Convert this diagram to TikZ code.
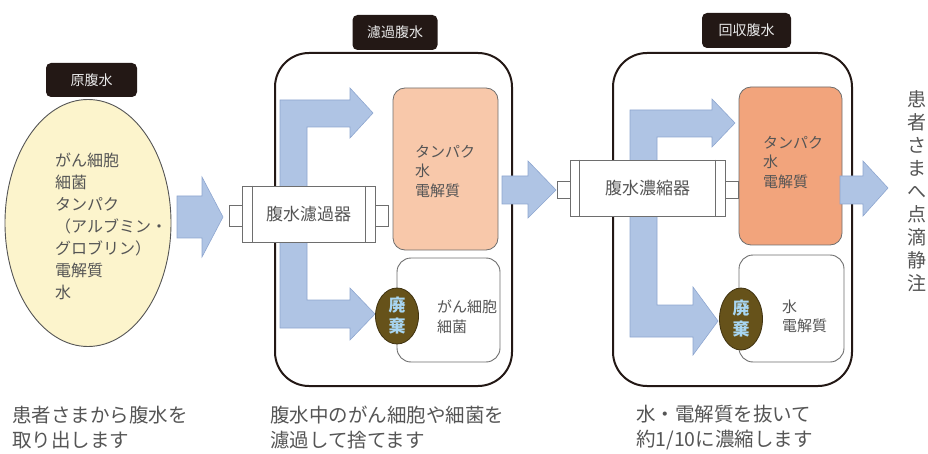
\documentclass[tikz,border=0pt]{standalone}
\usepackage{fontspec}
\setmainfont{Noto Sans CJK JP}
\usetikzlibrary{shapes.geometric}
\definecolor{lblbg}{HTML}{231815}
\definecolor{lbltxt}{HTML}{E8E8E8}
\definecolor{boxline}{HTML}{231815}
\definecolor{arrowblue}{HTML}{AFC4E4}
\definecolor{arrowedge}{HTML}{8EA6D0}
\definecolor{ellfill}{HTML}{FCF4CC}
\definecolor{orangeA}{HTML}{F8C8AA}
\definecolor{orangeB}{HTML}{F2A47C}
\definecolor{discfill}{HTML}{66521A}
\definecolor{discline}{HTML}{3F3210}
\definecolor{disctxt}{HTML}{A8D6F2}
\definecolor{txtgray}{HTML}{555555}
\definecolor{thingray}{HTML}{6E6E6E}
\begin{document}
\begin{tikzpicture}[x=1pt,y=-1pt,
  lbl/.style={fill=lblbg, rounded corners=5pt, text=lbltxt, font=\fontsize{14}{14}\selectfont, inner sep=0pt},
  outerbox/.style={draw=boxline, line width=2pt, rounded corners=34pt, inner sep=0pt},
  barrow/.style={fill=arrowblue, draw=arrowedge, line width=0.6pt},
  filterbody/.style={draw=thingray, fill=white, line width=0.9pt, inner sep=0pt, text=txtgray, font=\fontsize{17}{17}\selectfont},
  nub/.style={draw=thingray, fill=white, line width=0.9pt, inner sep=0pt, minimum width=13pt, minimum height=19pt},
  orangebox/.style={draw=thingray, line width=0.8pt, rounded corners=12pt, inner sep=0pt},
  wastebox/.style={draw=thingray, fill=white, line width=0.9pt, rounded corners=14pt, inner sep=0pt},
  disc/.style={ellipse, draw=discline, fill=discfill, line width=0.8pt, inner sep=0pt, text=disctxt, font=\bfseries\fontsize{17}{21}\selectfont, align=center},
  intext/.style={text=txtgray, inner sep=0pt, align=left, anchor=west},
  bottomtext/.style={text=txtgray, inner sep=0pt, align=left, anchor=west, font=\fontsize{19.5}{25}\selectfont}
]
\useasboundingbox (0,0) rectangle (928,454);

% ---------- stage 1 ----------
\node[lbl, minimum width=91pt, minimum height=34pt] (lab1) at (91.5,80) {原腹水};
\node[ellipse, draw=txtgray, fill=ellfill, line width=0.9pt, minimum width=166pt, minimum height=247pt, inner sep=0pt] (ell) at (88,223) {};
\node[intext, font=\fontsize{16}{22}\selectfont] (elltext) at (55,226)
  {がん細胞\\細菌\\タンパク\\（アルブミン・\\グロブリン）\\電解質\\水};

% ---------- outer boxes ----------
\node[outerbox, minimum width=237pt, minimum height=333pt] (box2) at (393.5,219.5) {};
\node[outerbox, minimum width=239pt, minimum height=333pt] (box3) at (732.5,219.5) {};
\node[lbl, minimum width=85pt, minimum height=35pt] (lab2) at (395,32.5) {濾過腹水};
\node[lbl, minimum width=89pt, minimum height=35pt] (lab3) at (746.5,30.5) {回収腹水};

% ---------- arrow 1 ----------
\path[barrow] (177,196) -- (202,196) -- (202,177) -- (223,217) -- (202,257) -- (202,238) -- (177,238) -- cycle;

% ---------- stage 2 arrows ----------
\path[barrow] (280,100) -- (350,100) -- (350,88) -- (373,113) -- (350,138) -- (350,127)
  -- (307,127) -- (307,300) -- (350,300) -- (350,288) -- (375,314) -- (350,340) -- (350,328)
  -- (280,328) -- cycle;

% ---------- stage 3 arrows ----------
\path[barrow] (630,110) -- (712,110) -- (712,99) -- (735,123) -- (712,147) -- (712,137)
  -- (657,137) -- (657,305) -- (693,305) -- (693,287) -- (718,321) -- (693,355) -- (693,337)
  -- (630,337) -- cycle;

% ---------- filter 2 ----------
\node[nub, minimum height=21pt] (f2l) at (235.5,216) {};
\node[nub, minimum height=21pt] (f2r) at (381.5,216) {};
\node[filterbody, minimum width=133pt, minimum height=56pt] (f2) at (308.5,214) {腹水濾過器};
\draw[thingray, line width=0.9pt] ([xshift=10.5pt]f2.north west) -- ([xshift=10.5pt]f2.south west);
\draw[thingray, line width=0.9pt] ([xshift=-10.5pt]f2.north east) -- ([xshift=-10.5pt]f2.south east);

% ---------- filter 3 ----------
\node[nub, minimum height=17pt] (f3l) at (563.5,189.5) {};
\node[nub, minimum height=17pt] (f3r) at (731.5,189.5) {};
\node[filterbody, minimum width=155pt, minimum height=56pt] (f3) at (647.5,188) {腹水濃縮器};
\draw[thingray, line width=0.9pt] ([xshift=10pt]f3.north west) -- ([xshift=10pt]f3.south west);
\draw[thingray, line width=0.9pt] ([xshift=-10pt]f3.north east) -- ([xshift=-10pt]f3.south east);

% ---------- stage 2 contents ----------
\node[orangebox, fill=orangeA, minimum width=105pt, minimum height=162pt] (o2) at (445.5,169) {};
\node[intext, font=\fontsize{15}{19.5}\selectfont] (o2t) at (415,171.5) {タンパク\\水\\電解質};
\node[wastebox, minimum width=103pt, minimum height=104pt] (w2) at (448.5,310) {};
\node[disc, minimum width=43pt, minimum height=56pt] (d2) at (397,316) {廃\\棄};
\node[intext, font=\fontsize{15}{20}\selectfont] (w2t) at (437,317) {がん細胞\\細菌};

% ---------- arrow 2 ----------
\path[barrow] (502,176) -- (528,176) -- (528,161) -- (556,190) -- (528,218) -- (528,204) -- (502,204) -- cycle;

% ---------- stage 3 contents ----------
\node[orangebox, fill=orangeB, minimum width=103pt, minimum height=158pt] (o3) at (790.5,166) {};
\node[intext, font=\fontsize{15}{19.5}\selectfont] (o3t) at (763,162.5) {タンパク\\水\\電解質};
\node[wastebox, minimum width=105pt, minimum height=107pt] (w3) at (791.5,308.5) {};
\node[disc, minimum width=43pt, minimum height=62pt] (d3) at (741,319) {廃\\棄};
\node[intext, font=\fontsize{15}{19.5}\selectfont] (w3t) at (782,316.5) {水\\電解質};

% ---------- arrow 3 ----------
\path[barrow] (840,176) -- (863,176) -- (863,161) -- (888,188) -- (863,216) -- (863,204) -- (840,204) -- cycle;

% ---------- vertical text ----------
\node[text=txtgray, inner sep=0pt, align=center, font=\fontsize{19}{23}\selectfont] (vt) at (917,191)
  {患\\者\\さ\\ま\\へ\\点\\滴\\静\\注};

% ---------- bottom captions ----------
\node[bottomtext] (c1) at (12,427.5) {患者さまから腹水を\\取り出します};
\node[bottomtext] (c2) at (270,427.5) {腹水中のがん細胞や細菌を\\濾過して捨てます};
\node[bottomtext] (c3) at (636,427.5) {水・電解質を抜いて\\約1/10に濃縮します};
\end{tikzpicture}
\end{document}
